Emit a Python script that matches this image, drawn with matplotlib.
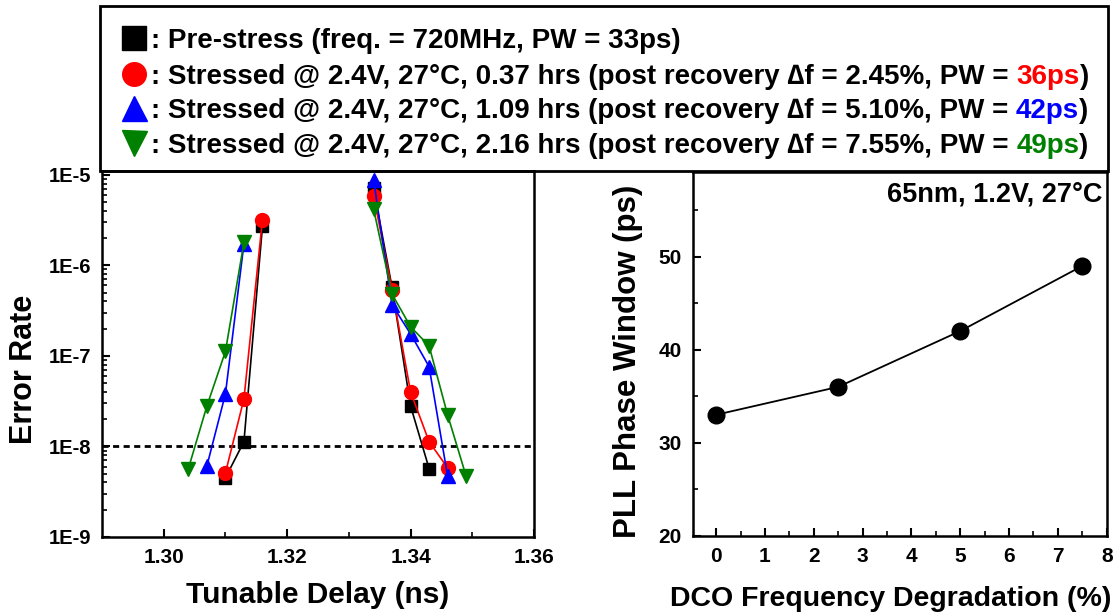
import matplotlib
matplotlib.use("Agg")
import matplotlib.pyplot as plt
from matplotlib.lines import Line2D
from matplotlib.ticker import FixedLocator, MultipleLocator, FuncFormatter, NullFormatter
import numpy as np

# ---------------- data ----------------
pre_left_x = [1.310, 1.313, 1.316]
pre_left_y = [4.5e-9, 1.13e-8, 2.7e-6]
pre_right_x = [1.334, 1.337, 1.340, 1.343]
pre_right_y = [7.1e-6, 5.7e-7, 2.8e-8, 5.7e-9]

red_left_x = [1.310, 1.313, 1.316]
red_left_y = [5.1e-9, 3.35e-8, 3.2e-6]
red_right_x = [1.334, 1.337, 1.340, 1.343, 1.346]
red_right_y = [5.9e-6, 5.4e-7, 4.0e-8, 1.13e-8, 5.8e-9]

blue_left_x = [1.307, 1.310, 1.313]
blue_left_y = [6.1e-9, 3.8e-8, 1.73e-6]
blue_right_x = [1.334, 1.337, 1.340, 1.343, 1.346]
blue_right_y = [8.8e-6, 3.66e-7, 1.75e-7, 7.6e-8, 4.7e-9]

green_left_x = [1.304, 1.307, 1.310, 1.313]
green_left_y = [5.7e-9, 2.8e-8, 1.12e-7, 1.79e-6]
green_right_x = [1.334, 1.337, 1.340, 1.343, 1.346, 1.349]
green_right_y = [4.2e-6, 4.8e-7, 2.1e-7, 1.29e-7, 2.23e-8, 4.7e-9]

threshold = 1e-8
err_ticks = [1e-9, 1e-8, 1e-7, 1e-6, 1e-5]
err_tick_labels = ["1E-9", "1E-8", "1E-7", "1E-6", "1E-5"]
delay_ticks = [1.30, 1.32, 1.34, 1.36]

dco_deg = [0, 2.5, 5, 7.5]
phase_window = [33, 36, 42, 49]

legend_prefix = [
    ": Pre-stress (freq. = 720MHz, PW = 33ps)",
    ": Stressed @ 2.4V, 27\u00b0C, 0.37 hrs (post recovery \u2206f = 2.45%, PW = ",
    ": Stressed @ 2.4V, 27\u00b0C, 1.09 hrs (post recovery \u2206f = 5.10%, PW = ",
    ": Stressed @ 2.4V, 27\u00b0C, 2.16 hrs (post recovery \u2206f = 7.55%, PW = ",
]
legend_pw = ["", "36ps", "42ps", "49ps"]

# ---------------- style ----------------
NARROW = ['Liberation Sans Narrow', 'Liberation Sans', 'DejaVu Sans']
WIDE = ['Liberation Sans', 'DejaVu Sans']
GREEN = '#008000'
colors = ['black', 'red', 'blue', GREEN]
markers = ['s', 'o', '^', 'v']
msizes = [8.5, 10, 10.5, 10.5]

W, H = 1118, 615
fig = plt.figure(figsize=(W / 100, H / 100), dpi=100)

def fx(px):
    return px / W

def fy(py):
    return 1 - py / H

# ---------------- left axes ----------------
ax1 = fig.add_axes([fx(102), fy(537), fx(534) - fx(102), fy(171) - fy(537)])
series = [
    (pre_left_x, pre_left_y, pre_right_x, pre_right_y),
    (red_left_x, red_left_y, red_right_x, red_right_y),
    (blue_left_x, blue_left_y, blue_right_x, blue_right_y),
    (green_left_x, green_left_y, green_right_x, green_right_y),
]
for i, (lx, ly, rx, ry) in enumerate(series):
    for xs, ys in ((lx, ly), (rx, ry)):
        ax1.plot(xs, ys, color=colors[i], marker=markers[i], ms=msizes[i],
                 lw=1.2, mec=colors[i], mfc=colors[i], zorder=3 + i)
ax1.axhline(threshold, color='black', lw=2, ls=(0, (2.2, 1.6)), zorder=2)
ax1.set_yscale('log')
ax1.set_xlim(1.29, 1.36)
ax1.set_ylim(1e-9, 1.1e-5)
ax1.xaxis.set_major_locator(FixedLocator(delay_ticks))
ax1.xaxis.set_minor_locator(FixedLocator([1.31, 1.33, 1.35]))
ax1.xaxis.set_major_formatter(FuncFormatter(lambda v, p: f"{v:.2f}"))
ax1.set_yticks(err_ticks)
ax1.set_yticklabels(err_tick_labels)
minor_y = [m * 10.0 ** e for e in range(-9, -5) for m in range(2, 10)]
ax1.yaxis.set_minor_locator(FixedLocator(minor_y))
ax1.yaxis.set_minor_formatter(NullFormatter())

# ---------------- right axes ----------------
ax2 = fig.add_axes([fx(692.7), fy(535.7), fx(1106.7) - fx(692.7), fy(172) - fy(535.7)])
ax2.plot(dco_deg, phase_window, color='black', lw=1.3, marker='o', ms=12, zorder=3)
ax2.set_xlim(-0.48, 8)
ax2.set_ylim(20, 59.1)
ax2.xaxis.set_major_locator(FixedLocator(list(range(0, 9))))
ax2.xaxis.set_minor_locator(FixedLocator([0.5 + k for k in range(8)]))
ax2.yaxis.set_major_locator(FixedLocator([20, 30, 40, 50]))
ax2.yaxis.set_minor_locator(FixedLocator([25, 35, 45, 55]))
ax2.text(0.99, 0.975, "65nm, 1.2V, 27\u00b0C", transform=ax2.transAxes, ha='right', va='top',
         fontsize=19.5, fontweight='bold', family=WIDE)

for ax in (ax1, ax2):
    for s in ax.spines.values():
        s.set_linewidth(1.8)
    ax.tick_params(which='major', direction='in', length=6, width=1.5, top=False, right=False,
                   pad=8)
    ax.tick_params(which='minor', direction='in', length=3.5, width=1.2, top=False, right=False)
    for lab in ax.get_xticklabels() + ax.get_yticklabels():
        lab.set_family(NARROW)
        lab.set_fontweight('bold')
        lab.set_fontsize(15)
for lab in ax1.get_yticklabels():
    lab.set_fontsize(14.5)

# axis labels (placed in figure pixel coordinates)
fig.text(fx(24), fy(369), "Error Rate", rotation=90, ha='center', va='center',
         fontsize=22, fontweight='bold', family=WIDE)
fig.text(fx(318), fy(595), "Tunable Delay (ns)", ha='center', va='center',
         fontsize=21.5, fontweight='bold', family=WIDE)
fig.text(fx(628), fy(361), "PLL Phase Window (ps)", rotation=90, ha='center', va='center',
         fontsize=22.5, fontweight='bold', family=WIDE)
fig.text(fx(891), fy(599), "DCO Frequency Degradation (%)", ha='center', va='center',
         fontsize=20.5, fontweight='bold', family=WIDE)

# ---------------- legend box ----------------
box = plt.Rectangle((fx(100), fy(171)), fx(1108) - fx(100), fy(6) - fy(171),
                    transform=fig.transFigure, fill=False, lw=2, ec='black', zorder=10)
fig.add_artist(box)
row_y = [38, 74, 108, 143]
leg_ms = [17, 17, 18, 18]
renderer = fig.canvas.get_renderer()
for i in range(4):
    fig.add_artist(Line2D([fx(134)], [fy(row_y[i])], transform=fig.transFigure, marker=markers[i],
                          ms=leg_ms[i], color=colors[i], mec=colors[i], ls='none'))
    t = fig.text(fx(151), fy(row_y[i]), legend_prefix[i], ha='left', va='center_baseline',
                 fontsize=20, fontweight='bold', family=NARROW)
    if legend_pw[i]:
        bb = t.get_window_extent(renderer)
        t2 = fig.text(bb.x1 / W, fy(row_y[i]), legend_pw[i], ha='left', va='center_baseline',
                      fontsize=20, fontweight='bold', family=NARROW, color=colors[i])
        bb2 = t2.get_window_extent(renderer)
        fig.text(bb2.x1 / W, fy(row_y[i]), ")", ha='left', va='center_baseline',
                 fontsize=20, fontweight='bold', family=NARROW)

fig.savefig("out.png", dpi=100)
